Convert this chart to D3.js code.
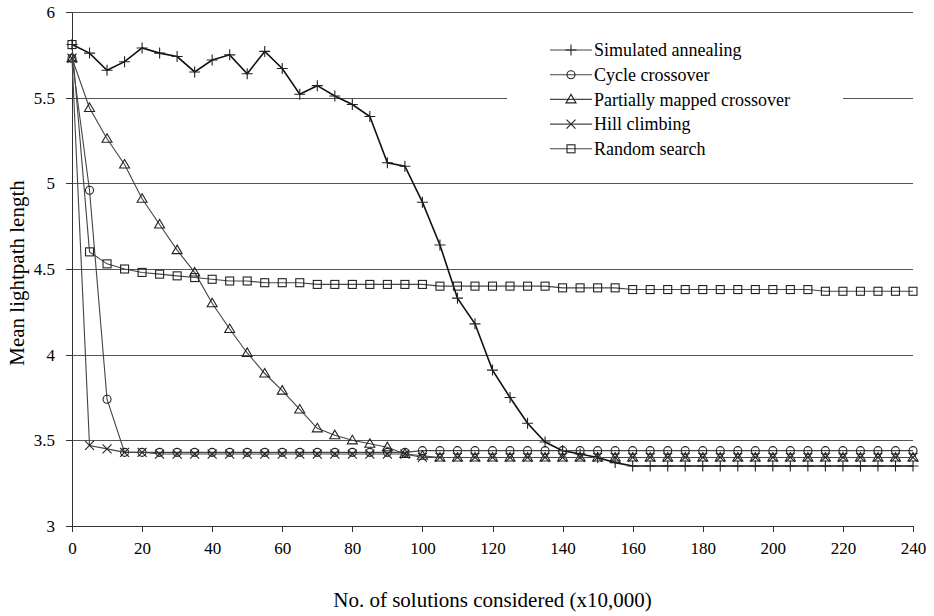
<!DOCTYPE html>
<html lang="en">
<head>
<meta charset="utf-8">
<title>Mean lightpath length</title>
<script src="https://cdn.jsdelivr.net/npm/d3@7"></script>
<style>
    body { margin: 0; background: #fff; }
    .axis path, .axis line { fill: none; stroke: #333; shape-rendering: crispEdges; }
    .axis text { font-family: "Liberation Serif", serif; font-size: 17px; fill: #000; }
    .grid line { stroke: #555; shape-rendering: crispEdges; }
    .line { fill: none; }
    .label { font-family: "Liberation Serif", serif; fill: #000; }
</style>
</head>
<body>
<div id="chart"></div>
<script>

// x values (x10,000 solutions)
const SOLUTIONS = [0, 5, 10, 15, 20, 25, 30, 35, 40, 45, 50, 55, 60, 65, 70, 75, 80, 85, 90, 95,
    100, 105, 110, 115, 120, 125, 130, 135, 140, 145, 150, 155, 160, 165, 170, 175, 180, 185, 190, 195,
    200, 205, 210, 215, 220, 225, 230, 235, 240];

const simulated = [5.81, 5.76, 5.66, 5.71, 5.79, 5.76, 5.74, 5.65, 5.72, 5.75, 5.64, 5.77, 5.67, 5.52, 5.57, 5.51, 5.46, 5.39, 5.12, 5.10,
    4.89, 4.64, 4.33, 4.18, 3.91, 3.75, 3.60, 3.49, 3.44, 3.42, 3.40, 3.37, 3.35, 3.35, 3.35, 3.35, 3.35, 3.35, 3.35, 3.35,
    3.35, 3.35, 3.35, 3.35, 3.35, 3.35, 3.35, 3.35, 3.35];

const cycle = [5.73, 4.96, 3.74, 3.43, 3.43, 3.43, 3.43, 3.43, 3.43, 3.43, 3.43, 3.43, 3.43, 3.43, 3.43, 3.43, 3.43, 3.43, 3.43, 3.43,
    3.44, 3.44, 3.44, 3.44, 3.44, 3.44, 3.44, 3.44, 3.44, 3.44, 3.44, 3.44, 3.44, 3.44, 3.44, 3.44, 3.44, 3.44, 3.44, 3.44,
    3.44, 3.44, 3.44, 3.44, 3.44, 3.44, 3.44, 3.44, 3.44];

const partial = [5.73, 5.44, 5.26, 5.11, 4.91, 4.76, 4.61, 4.48, 4.30, 4.15, 4.01, 3.89, 3.79, 3.68, 3.57, 3.53, 3.50, 3.48, 3.46, 3.42,
    3.41, 3.40, 3.40, 3.40, 3.40, 3.40, 3.40, 3.40, 3.40, 3.40, 3.40, 3.40, 3.40, 3.40, 3.40, 3.40, 3.40, 3.40, 3.40, 3.40,
    3.40, 3.40, 3.40, 3.40, 3.40, 3.40, 3.40, 3.40, 3.40];

const hill = [5.73, 3.47, 3.45, 3.43, 3.43, 3.42, 3.42, 3.42, 3.42, 3.42, 3.42, 3.42, 3.42, 3.42, 3.42, 3.42, 3.42, 3.42, 3.42, 3.42,
    3.40, 3.40, 3.40, 3.40, 3.40, 3.40, 3.40, 3.40, 3.40, 3.40, 3.40, 3.40, 3.40, 3.40, 3.40, 3.40, 3.40, 3.40, 3.40, 3.40,
    3.40, 3.40, 3.40, 3.40, 3.40, 3.40, 3.40, 3.40, 3.40];

const random = [5.81, 4.60, 4.53, 4.50, 4.48, 4.47, 4.46, 4.45, 4.44, 4.43, 4.43, 4.42, 4.42, 4.42, 4.41, 4.41, 4.41, 4.41, 4.41, 4.41,
    4.41, 4.40, 4.40, 4.40, 4.40, 4.40, 4.40, 4.40, 4.39, 4.39, 4.39, 4.39, 4.38, 4.38, 4.38, 4.38, 4.38, 4.38, 4.38, 4.38,
    4.38, 4.38, 4.38, 4.37, 4.37, 4.37, 4.37, 4.37, 4.37];

const SERIES_NAMES = ["Simulated annealing", "Cycle crossover", "Partially mapped crossover", "Hill climbing", "Random search"];
const SERIES_VALUES = [simulated, cycle, partial, hill, random];
const MARKERS = ["plus", "circle", "triangle", "cross", "square"];

const X_TICKS = [0, 20, 40, 60, 80, 100, 120, 140, 160, 180, 200, 220, 240];
const Y_TICKS = [3, 3.5, 4, 4.5, 5, 5.5, 6];

const WIDTH = 934,
      HEIGHT = 616,
      MARGIN = { top: 12, right: 21, bottom: 90, left: 72 };

let svg = d3.select("#chart")
    .append("svg")
    .attr("width", WIDTH)
    .attr("height", HEIGHT);

let xScale = d3.scaleLinear()
    .domain([0, 240])
    .range([MARGIN.left, WIDTH - MARGIN.right]);

let yScale = d3.scaleLinear()
    .domain([3, 6])
    .range([HEIGHT - MARGIN.bottom, MARGIN.top]);

// horizontal gridlines
svg.append("g")
    .attr("class", "grid")
    .selectAll("line")
    .data(Y_TICKS.slice(1))
    .enter()
    .append("line")
    .attr("x1", MARGIN.left)
    .attr("x2", WIDTH - MARGIN.right)
    .attr("y1", d => Math.round(yScale(d)) + 0.5)
    .attr("y2", d => Math.round(yScale(d)) + 0.5);

// legend background hides the gridline behind it
let legendX = 507, legendY = 30;
svg.append("rect")
    .attr("x", legendX)
    .attr("y", legendY)
    .attr("width", 336)
    .attr("height", 140)
    .attr("fill", "#fff");

let xAxis = d3.axisBottom(xScale)
    .tickValues(X_TICKS)
    .tickSize(6)
    .tickSizeOuter(0)
    .tickPadding(10);
let yAxis = d3.axisLeft(yScale)
    .tickValues(Y_TICKS)
    .tickFormat(d => String(d))
    .tickSize(6)
    .tickSizeOuter(0)
    .tickPadding(11);

svg.append("g")
    .attr("class", "axis")
    .attr("transform", "translate(0," + (HEIGHT - MARGIN.bottom) + ")")
    .call(xAxis);

svg.append("g")
    .attr("class", "axis")
    .attr("transform", "translate(" + MARGIN.left + ",0)")
    .call(yAxis);

// draw a marker shape centred on (0,0)
function drawMarker(g, type) {
    let s = 4.5;
    if (type == "plus") {
        g.append("path").attr("d", "M" + (-s - 1) + ",0H" + (s + 1) + "M0," + (-s - 1) + "V" + (s + 1));
    } else if (type == "circle") {
        g.append("circle").attr("r", 4);
    } else if (type == "triangle") {
        g.append("path").attr("d", "M0,-5L5,3.5L-5,3.5Z");
    } else if (type == "cross") {
        g.append("path").attr("d", "M-4.5,-4.5L4.5,4.5M-4.5,4.5L4.5,-4.5");
    } else {
        g.append("rect").attr("x", -4).attr("y", -4).attr("width", 8).attr("height", 8);
    }
    g.selectAll("*")
        .attr("fill", "none")
        .attr("stroke", "#222")
        .attr("stroke-width", 1.1);
}

let lineGen = d3.line()
    .x((d, i) => xScale(SOLUTIONS[i]))
    .y(d => yScale(d));

SERIES_VALUES.forEach((values, k) => {
    svg.append("path")
        .datum(values)
        .attr("class", "line")
        .attr("d", lineGen)
        .attr("stroke", k == 0 ? "#111" : "#444")
        .attr("stroke-width", k == 0 ? 1.6 : 1.1);

    svg.append("g")
        .selectAll("g")
        .data(values)
        .enter()
        .append("g")
        .attr("transform", (d, i) => "translate(" + xScale(SOLUTIONS[i]) + "," + yScale(d) + ")")
        .each(function () { drawMarker(d3.select(this), MARKERS[k]); });
});

// legend
let legend = svg.selectAll(".legend")
    .data(SERIES_NAMES)
    .enter()
    .append("g")
    .attr("class", "legend")
    .attr("transform", (d, i) => "translate(" + (legendX + 43) + "," + (50 + i * 24.7) + ")");

legend.append("line")
    .attr("x1", 0)
    .attr("x2", 42)
    .attr("stroke", "#444")
    .attr("stroke-width", 1.1);

legend.append("g")
    .attr("transform", "translate(21,0)")
    .each(function (d, i) { drawMarker(d3.select(this), MARKERS[i]); });

legend.append("text")
    .attr("class", "label")
    .attr("x", 44)
    .attr("y", 0)
    .attr("dy", "0.35em")
    .style("font-size", "18px")
    .text(d => d);

// axis titles
svg.append("text")
    .attr("class", "label")
    .attr("x", (MARGIN.left + WIDTH - MARGIN.right) / 2)
    .attr("y", 607)
    .attr("text-anchor", "middle")
    .style("font-size", "21px")
    .text("No. of solutions considered (x10,000)");

svg.append("text")
    .attr("class", "label")
    .attr("transform", "translate(24,273) rotate(-90)")
    .attr("text-anchor", "middle")
    .style("font-size", "21px")
    .text("Mean lightpath length");

</script>
</body>
</html>
